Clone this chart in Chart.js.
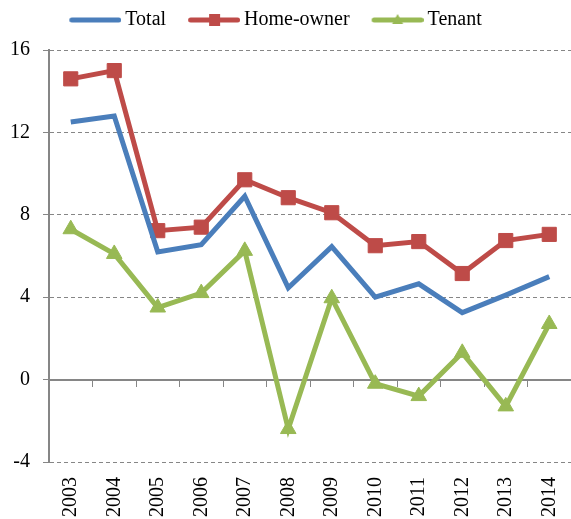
<html>
<head>
    <script src="https://cdn.jsdelivr.net/npm/chart.js"></script>
    <style>
        body { margin: 0; background: #fff; }
        #wrap { width: 571px; height: 519px; }
    </style>
</head>
<body>
    <div id="wrap"><canvas id="myChart"></canvas></div>

    <script>
        const years = ['2003', '2004', '2005', '2006', '2007', '2008', '2009', '2010', '2011', '2012', '2013', '2014'];
        const total = [12.5, 12.8, 6.2, 6.55, 8.9, 4.45, 6.45, 4.0, 4.65, 3.25, 4.1, 5.0];
        const homeOwner = [14.6, 15.0, 7.23, 7.4, 9.7, 8.83, 8.1, 6.5, 6.7, 5.15, 6.75, 7.05];
        const tenant = [7.3, 6.1, 3.5, 4.2, 6.25, -2.4, 3.95, -0.2, -0.8, 1.3, -1.3, 2.7];
        const yTicks = [-4, 0, 4, 8, 12, 16];

        const BLUE = '#4a7ebb';
        const RED = '#be4b48';
        const GREEN = '#98b954';
        const GRAY = '#868686';
        const font = { family: 'Liberation Serif', size: 20 };

        // small line + marker icon for the legend
        function legendIcon(color, marker) {
            const c = document.createElement('canvas');
            c.width = 70;
            c.height = 20;
            const g = c.getContext('2d');
            g.strokeStyle = color;
            g.fillStyle = color;
            g.lineWidth = 5;
            g.lineCap = 'round';
            g.beginPath();
            g.moveTo(20.5, 10);
            g.lineTo(67.5, 10);
            g.stroke();
            if (marker === 'rect') {
                g.fillRect(39, 4, 11, 12);
            } else if (marker === 'triangle') {
                g.beginPath();
                g.moveTo(44, 4);
                g.lineTo(49.5, 14);
                g.lineTo(38.5, 14);
                g.closePath();
                g.fill();
            }
            return c;
        }
        const icons = [legendIcon(BLUE, null), legendIcon(RED, 'rect'), legendIcon(GREEN, 'triangle')];

        // the legend sits a little left of centre and above the plot padding
        const nudgeLegend = {
            id: 'nudgeLegend',
            afterLayout(chart) {
                const l = chart.legend;
                l.left -= 16;
                l.right -= 16;
                l.top -= 10;
                l.bottom -= 10;
            }
        };

        const noSidePadding = (s) => {
            s.paddingLeft = 0;
            s.paddingRight = 0;
        };

        const data = {
            labels: years,
            datasets: [
                {
                    label: 'Total',
                    data: total,
                    borderColor: BLUE,
                    backgroundColor: BLUE,
                    borderWidth: 5,
                    pointRadius: 0,
                    xAxisID: 'x'
                },
                {
                    label: 'Home-owner',
                    data: homeOwner,
                    borderColor: RED,
                    backgroundColor: RED,
                    borderWidth: 5,
                    pointStyle: 'rect',
                    pointRadius: 10,
                    pointBorderWidth: 1,
                    xAxisID: 'x'
                },
                {
                    label: 'Tenant',
                    data: tenant,
                    borderColor: GREEN,
                    backgroundColor: GREEN,
                    borderWidth: 5,
                    pointStyle: 'triangle',
                    pointRadius: 9,
                    pointBorderWidth: 1,
                    xAxisID: 'x'
                }
            ]
        };

        const config = {
            type: 'line',
            data: data,
            plugins: [nudgeLegend],
            options: {
                responsive: true,
                maintainAspectRatio: false,
                animation: false,
                layout: { autoPadding: false, padding: { left: -3, right: -3, top: 10, bottom: 0 } },
                elements: { line: { tension: 0 } },
                scales: {
                    x: {
                        type: 'category',
                        offset: true,
                        position: { y: 0 },
                        grid: { offset: true, drawOnChartArea: false, drawTicks: true, tickLength: 6, color: GRAY },
                        border: { color: GRAY, width: 2 },
                        ticks: { display: false },
                        afterFit: noSidePadding
                    },
                    x2: {
                        type: 'category',
                        offset: true,
                        position: 'bottom',
                        grid: { display: false, drawTicks: false },
                        border: { display: false },
                        ticks: { font: font, color: '#000', minRotation: 90, maxRotation: 90, autoSkip: false, padding: 15 },
                        afterFit: (s) => {
                            s.height = 57;
                            noSidePadding(s);
                        }
                    },
                    y: {
                        min: yTicks[0],
                        max: yTicks[yTicks.length - 1],
                        ticks: { stepSize: yTicks[1] - yTicks[0], font: font, color: '#000', padding: 13 },
                        grid: {
                            color: (ctx) => (ctx.tick && ctx.tick.value === 0 ? 'rgba(0,0,0,0)' : GRAY),
                            tickColor: GRAY,
                            tickLength: 6,
                            lineWidth: 1
                        },
                        border: { color: GRAY, width: 2, dash: [4, 3] }
                    }
                },
                plugins: {
                    tooltip: { enabled: false },
                    legend: {
                        position: 'top',
                        labels: {
                            usePointStyle: true,
                            pointStyleWidth: 58,
                            padding: 10,
                            font: font,
                            color: '#000',
                            generateLabels: (chart) => {
                                const items = Chart.defaults.plugins.legend.labels.generateLabels(chart);
                                items.forEach((it, i) => { it.pointStyle = icons[i]; });
                                return items;
                            }
                        }
                    }
                }
            }
        };

        const myChart = new Chart(document.getElementById('myChart'), config);
    </script>
</body>
</html>
